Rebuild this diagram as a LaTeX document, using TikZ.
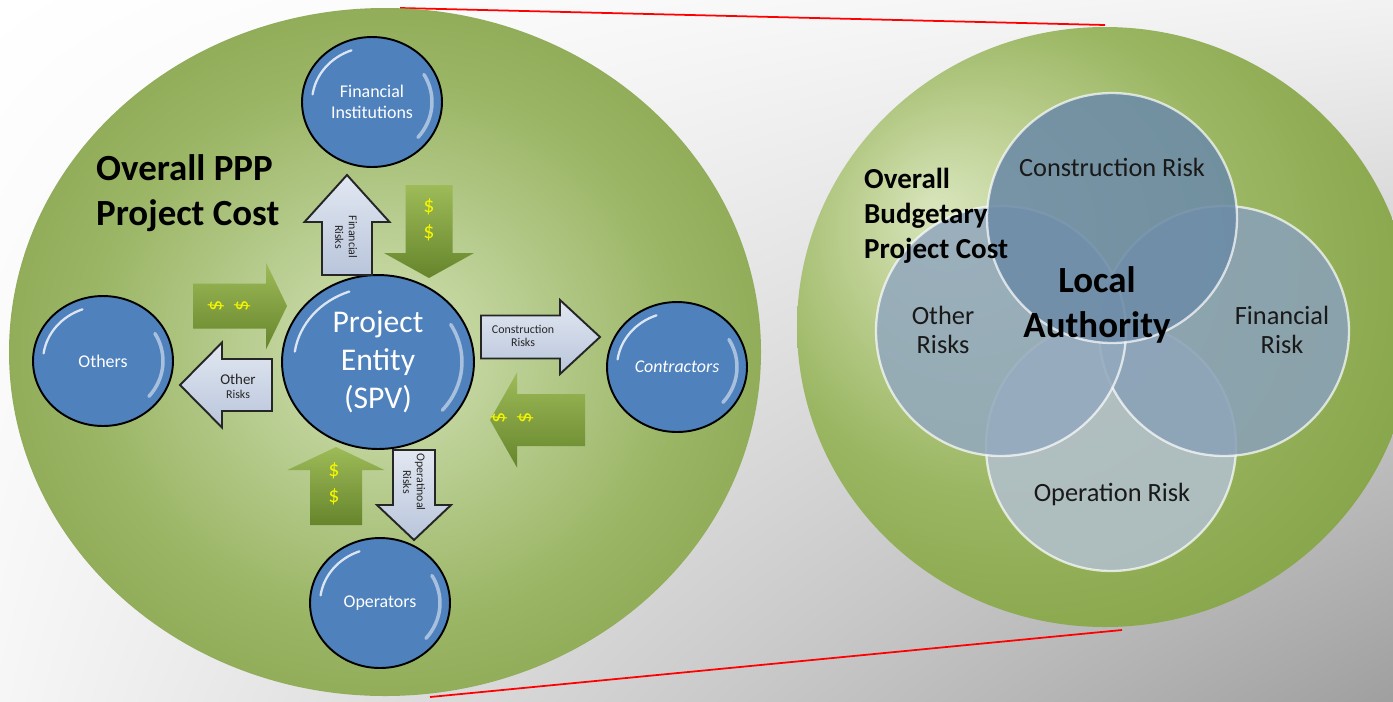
\documentclass[tikz,border=0pt]{standalone}
\usepackage{fontspec}
\setmainfont{Carlito}
\usetikzlibrary{shapes.geometric, shadings, positioning}

\definecolor{pppgreen}{HTML}{6E8C36}
\definecolor{nodeblue}{HTML}{4F81BD}
\definecolor{riskfill}{HTML}{B9C5DB}
\definecolor{riskfilltop}{HTML}{E2E8F2}
\definecolor{cashdark}{HTML}{66852C}
\definecolor{cashlight}{HTML}{9EBB58}
\definecolor{venntop}{HTML}{6C8BA7}
\definecolor{vennside}{HTML}{8AA1B7}
\definecolor{vennlow}{HTML}{B2BFCB}
\definecolor{cashtext}{HTML}{F5F500}

\pgfdeclareradialshading{pppglow}{\pgfpoint{0bp}{0bp}}{%
  color(0bp)=(rgb,255:red,210;green,226;blue,178); color(8bp)=(rgb,255:red,188;green,208;blue,150);
  color(20bp)=(rgb,255:red,154;green,181;blue,100); color(33bp)=(rgb,255:red,132;green,161;blue,74);
  color(44bp)=(rgb,255:red,120;green,150;blue,62); color(50bp)=(pppgreen)}
\pgfdeclareradialshading{budgetglow}{\pgfpoint{-14bp}{10bp}}{%
  color(0bp)=(rgb,255:red,216;green,229;blue,188); color(8bp)=(rgb,255:red,192;green,210;blue,150);
  color(20bp)=(rgb,255:red,154;green,182;blue,98); color(33bp)=(rgb,255:red,134;green,164;blue,72);
  color(44bp)=(rgb,255:red,124;green,156;blue,62); color(50bp)=(pppgreen)}

\begin{document}
\begin{tikzpicture}[x=0.02cm, y=-0.02cm,
    party/.style={ellipse, draw=black, line width=1.1pt, fill=nodeblue, text=white,
        minimum width=2.8cm, minimum height=2.6cm, align=center,
        font=\fontsize{10.2}{12}\selectfont, glint={1.2cm}{1.1cm}},
    glint/.style 2 args={path picture={
        \draw[white, opacity=.8, line width=1.3pt, line cap=round]
          ([shift={(172:#1 and #2)}]path picture bounding box.center)
          arc[start angle=172, end angle=110, x radius=#1, y radius=#2];
        \draw[white, opacity=.5, line width=2pt, line cap=round]
          ([shift={(-40:#1 and #2)}]path picture bounding box.center)
          arc[start angle=-40, end angle=30, x radius=#1, y radius=#2];}},
    pics/blockarrow/.style args={#1/#2/#3/#4}{code={
        \path[pic actions] (0,-#2/2) -- (#1-#4,-#2/2) -- (#1-#4,-#3/2) -- (#1,0)
          -- (#1-#4,#3/2) -- (#1-#4,#2/2) -- (0,#2/2) -- cycle;}},
    riskarrow/.style={draw=black!85, line width=1.1pt, line join=miter,
        top color=riskfilltop, bottom color=riskfill},
    casharrow/.style={top color=cashlight, bottom color=cashdark},
    risktext/.style={align=center, text=black!85, inner sep=0pt,
        font=\fontsize{6.8}{7.8}\selectfont},
    cashtext/.style={align=center, text=cashtext, inner sep=0pt,
        font=\fontsize{12.5}{15}\selectfont},
    venn/.style={circle, minimum size=5cm, draw=white, draw opacity=.7,
        line width=1.3pt, fill opacity=.88},
    venntext/.style={align=center, text=black!90, font=\fontsize{15}{17}\selectfont},
    heading/.style={align=left, anchor=west, text=black}]

    \useasboundingbox (0,0) rectangle (1393,701);
    \shade[upper left=white, upper right=white!90!gray, lower left=white!93!gray,
        lower right=gray!75] (0,0) rectangle (1393,701);

    % Zoom lines
    \coordinate (zt1) at (400,8);
    \coordinate (zt2) at (1105,25);
    \coordinate (zb1) at (430,697);
    \coordinate (zb2) at (1122,630);
    \draw[red, line width=1pt] (zt1) -- (zt2);
    \draw[red, line width=1pt] (zb1) -- (zb2);

    % The two cost areas
    \shade[shading=pppglow] (385,352) ellipse [x radius=376, y radius=344];
    \shade[shading=budgetglow] (1105,327) ellipse [x radius=308, y radius=300];

    % Left: PPP structure
    \node[heading, font=\fontsize{21}{25.5}\selectfont\bfseries] (ppp) at (90,193) {Overall PPP\\Project Cost};

    \node[party] (fin) at (372,102) {Financial\\Institutions};
    \node[party] (others) at (103,361) {Others};
    \node[party, font=\fontsize{10.2}{12}\selectfont\itshape] (contr) at (677,367) {Contractors};
    \node[party] (oper) at (380,603) {Operators};
    \node[party, minimum width=3.84cm, minimum height=3.48cm, glint={1.68cm}{1.5cm},
        font=\fontsize{18}{21.5}\selectfont] (spv) at (378,362) {Project\\Entity\\(SPV)};

    % risk arrows (length/shaft/head width/head length)
    \pic[riskarrow, rotate=90] at (347,275) {blockarrow=100/50/85/47};
    \pic[riskarrow, rotate=180] at (272,385) {blockarrow=92/52/85/42};
    \pic[riskarrow] at (481,337) {blockarrow=119/43/74/40};
    \pic[riskarrow, rotate=-90] at (414,450) {blockarrow=90/42/74/35};
    \node[risktext, rotate=-90] (finrisk) at (346,237) {Financial\\Risks};
    \node[risktext] (othrisk) at (238,386) {{\fontsize{8.5}{9}\selectfont Other}\\Risks};
    \node[risktext] (conrisk) at (523,336) {Construction\\Risks};
    \node[risktext, rotate=-90] (oprisk) at (414,482) {Operatinoal\\Risks};

    % money arrows
    \pic[casharrow, rotate=-90] at (429,185) {blockarrow=93/47/90/25};
    \pic[casharrow] at (193,306) {blockarrow=94/45/87/21};
    \pic[casharrow, rotate=180] at (585,420) {blockarrow=95/52/95/27};
    \pic[casharrow, rotate=90] at (336,525) {blockarrow=78/52/97/23};
    \node[cashtext] (cashfin) at (429,220) {\$\\\$};
    \node[cashtext, rotate=90] (cashoth) at (229,306) {\$\\\$};
    \node[cashtext, rotate=90] (cashcon) at (512,418) {\$\\\$};
    \node[cashtext] (cashop) at (334,484) {\$\\\$};

    % Right: budgetary view
    \node[venn, fill=vennlow] (vop) at (1111,446) {};
    \node[venn, fill=vennside] (vfin) at (1224,331) {};
    \node[venn, fill=vennside!92!white] (voth) at (1001,331) {};
    \node[venn, fill=venntop] (vcon) at (1112,218) {};

    \node[venntext] (tcon) at (1112,167) {Construction Risk};
    \node[venntext] (toth) at (943,330) {Other\\Risks};
    \node[venntext] (tfin) at (1282,330) {Financial\\Risk};
    \node[venntext] (top) at (1112,494) {Operation Risk};
    \node[align=center, font=\fontsize{21}{25.5}\selectfont\bfseries] (local) at (1097,305) {Local\\Authority};
    \node[heading, font=\fontsize{16.5}{20}\selectfont\bfseries] (budget) at (858,216) {Overall\\Budgetary\\Project Cost};
\end{tikzpicture}
\end{document}
